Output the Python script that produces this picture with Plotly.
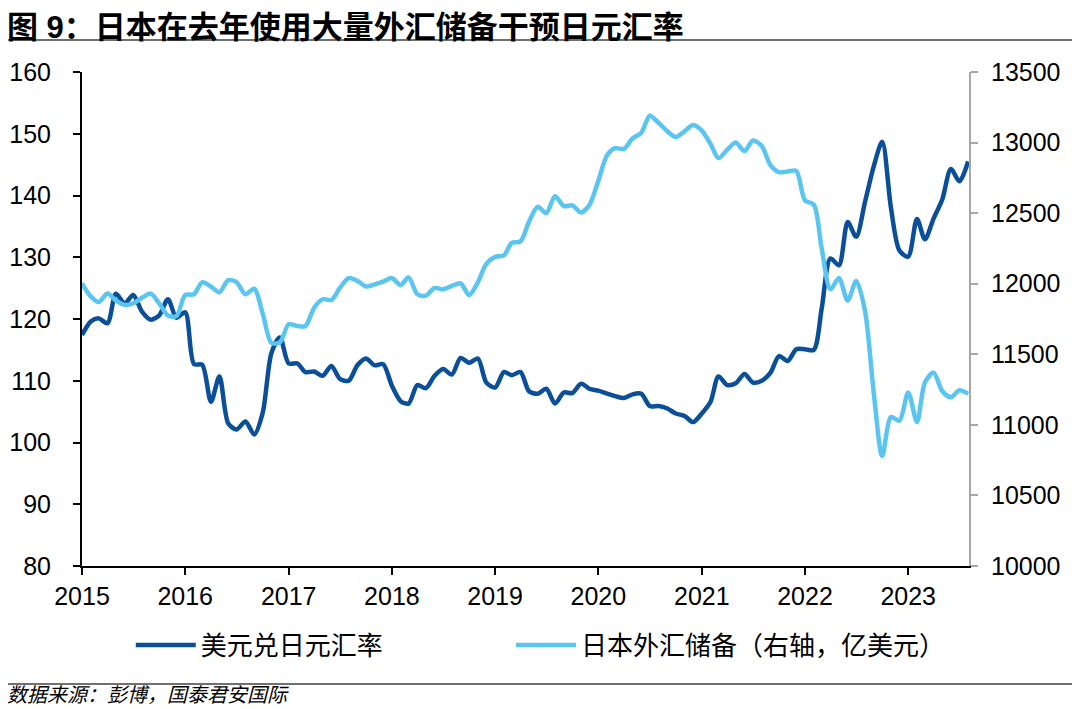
import plotly.graph_objects as go
import pandas as pd

# Monthly dates Jan 2015 - Aug 2023
dates = pd.date_range("2015-01-01", "2023-08-01", freq="MS")

# 美元兑日元汇率 (left axis)
usdjpy = [
    117.4, 119.6, 120.1, 119.3, 124.1, 122.5, 123.9, 121.2, 119.9, 120.6, 123.2, 120.2,
    121.1, 112.7, 112.6, 106.6, 110.7, 103.1, 102.1, 103.4, 101.3, 104.8, 114.5, 117.0,
    112.8, 112.8, 111.4, 111.5, 110.8, 112.4, 110.3, 110.0, 112.5, 113.6, 112.5, 112.7,
    109.2, 106.7, 106.3, 109.3, 108.8, 110.8, 111.9, 111.0, 113.7, 112.9, 113.6, 109.7,
    108.9, 111.4, 110.9, 111.4, 108.3, 107.9, 108.7, 106.3, 108.1, 108.0, 109.5, 108.7,
    108.4, 107.9, 107.5, 107.2, 107.8, 107.9, 105.9, 105.9, 105.5, 104.7, 104.3, 103.3,
    104.7, 106.6, 110.7, 109.3, 109.6, 111.1, 109.7, 110.0, 111.3, 114.0, 113.2, 115.1,
    115.1, 115.0, 121.7, 129.8, 128.7, 135.7, 133.3, 138.9, 144.7, 148.7, 138.0, 131.1,
    130.1, 136.2, 132.9, 136.3, 139.3, 144.3, 142.3, 145.5,
]

# 日本外汇储备 (right axis, 亿美元)
reserves = [
    12003, 11910, 11870, 11930, 11880, 11850, 11860, 11900, 11930, 11860, 11775, 11770,
    11920, 11925, 12010, 11980, 11940, 12025, 12010, 11925, 11965, 11790, 11580, 11585,
    11712, 11700, 11700, 11830, 11890, 11885, 11970, 12040, 12020, 11980, 11995, 12015,
    12040, 11990, 12045, 11925, 11915, 11970, 11960, 11985, 12003, 11920, 12010, 12140,
    12190, 12200, 12290, 12300, 12440, 12545, 12500, 12620, 12550, 12555, 12505, 12560,
    12730, 12910, 12960, 12955, 13030, 13070, 13190, 13140, 13080, 13040, 13080, 13125,
    13085, 12990, 12890, 12950, 13000, 12940, 13015, 12975, 12840, 12790, 12795, 12800,
    12590, 12560, 12250, 11960, 12040, 11880, 12020, 11810, 11230, 10780, 11055, 11030,
    11230, 11020, 11300, 11370, 11240, 11195, 11245, 11220,
]

year_ticks = [f"{y}-01-01" for y in range(2015, 2024)]
year_labels = [str(y) for y in range(2015, 2024)]

name_left = "美元兑日元汇率"
name_right = "日本外汇储备（右轴，亿美元）"
title_text = "<b>图 9：日本在去年使用大量外汇储备干预日元汇率</b>"
source_text = "<i>数据来源：彭博，国泰君安国际</i>"

DARK = "#0B4F99"
LIGHT = "#5BC5F2"
FONT = "Liberation Sans, Arial, Noto Sans CJK SC, sans-serif"
CJK = "Noto Sans CJK SC, sans-serif"

fig = go.Figure()
fig.add_trace(go.Scatter(
    x=dates, y=usdjpy, name=name_left, mode="lines",
    line=dict(color=DARK, width=4.5, shape="spline", smoothing=0.8),
    yaxis="y", legend="legend",
))
fig.add_trace(go.Scatter(
    x=dates, y=reserves, name=name_right, mode="lines",
    line=dict(color=LIGHT, width=4.5, shape="spline", smoothing=0.8),
    yaxis="y2", legend="legend2",
))

legend_common = dict(
    orientation="h", yanchor="middle", xanchor="left", y=-0.16,
    font=dict(family=CJK, size=26, color="black"),
    itemwidth=60, bgcolor="rgba(0,0,0,0)",
)

fig.update_layout(
    width=1072, height=701,
    margin=dict(l=74, r=111, t=64, b=143, autoexpand=False),
    paper_bgcolor="white", plot_bgcolor="white",
    font=dict(family=FONT, color="black", size=25),
    xaxis=dict(
        range=["2015-01-01", "2023-08-04"],
        tickvals=year_ticks, ticktext=year_labels,
        showgrid=False, zeroline=False, automargin=False,
        showline=True, linecolor="black", linewidth=2,
        ticks="outside", ticklen=7, tickwidth=2, tickcolor="black",
        tickfont=dict(size=25, family=FONT),
    ),
    yaxis=dict(
        range=[80, 160], dtick=10,
        showgrid=False, zeroline=False, automargin=False,
        showline=True, linecolor="black", linewidth=2,
        ticks="outside", ticklen=7, tickwidth=2, tickcolor="black",
        ticklabelstandoff=17,
        tickfont=dict(size=25, family=FONT),
    ),
    yaxis2=dict(
        range=[10000, 13500], dtick=500, overlaying="y", side="right",
        tickformat="d", automargin=False,
        showgrid=False, zeroline=False,
        showline=True, linecolor="#A6A6A6", linewidth=2,
        ticks="outside", ticklen=7, tickwidth=2, tickcolor="#A6A6A6",
        ticklabelstandoff=8,
        tickfont=dict(size=25, family=FONT),
    ),
    showlegend=True,
    legend=dict(x=0.055, **legend_common),
    legend2=dict(x=0.4837, **legend_common),
)

# Title and source as real text
fig.add_annotation(
    text=title_text, xref="paper", yref="paper", x=-0.087, y=1.1296,
    xanchor="left", yanchor="top", showarrow=False,
    font=dict(family="Liberation Sans, Noto Sans CJK SC", size=31, color="black"),
)
fig.add_annotation(
    text=source_text, xref="paper", yref="paper", x=-0.087, y=-0.259,
    xanchor="left", yanchor="middle", showarrow=False,
    font=dict(family=CJK, size=20, color="black"),
)

# Separator lines
fig.add_shape(type="line", xref="paper", yref="paper", x0=-0.0834, x1=1.125,
              y0=1.0648, y1=1.0648, line=dict(color="#404040", width=1.5))
fig.add_shape(type="line", xref="paper", yref="paper", x0=-0.0834, x1=1.125,
              y0=-0.239, y1=-0.239, line=dict(color="#404040", width=1.5))

fig.write_html("out.html")
